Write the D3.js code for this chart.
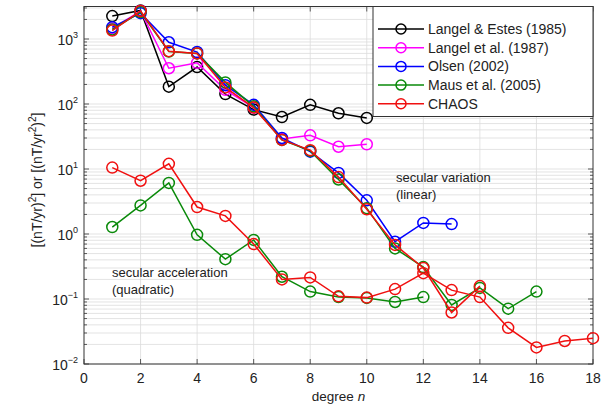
<!DOCTYPE html>
<html><head><meta charset="utf-8">
<script src="https://cdn.jsdelivr.net/npm/d3@7"></script>
<style>
html,body{margin:0;padding:0;background:#fff;}
svg{display:block;font-family:"Liberation Sans",Arial,Helvetica,sans-serif;}
</style></head>
<body><svg id="c" width="603" height="406"></svg>
<script>
// ---- data ----
const xTicks = [0,2,4,6,8,10,12,14,16,18];
const yExponents = [-2,-1,0,1,2,3];
const seriesNames = ["Langel & Estes (1985)","Langel et al. (1987)","Olsen (2002)","Maus et al. (2005)","CHAOS"];
const seriesColors = ["#000000","#ff00ff","#0000ff","#0a8a0a","#f01010"];
const langelEstesSV = [2250, 2750, 185, 370, 142, 82, 63, 97, 72, 61];
const langel87SV    = [1450, 2700, 355, 430, 165, 88, 29, 33, 22, 24];
const olsenSV       = [1520, 2500, 890, 630, 195, 97, 30, 18.5, 8.7, 3.3, 0.76, 1.48, 1.42];
const mausSV        = [1400, 2600, 640, 600, 215, 92, 28, 19, 6.9, 2.5, 0.6, 0.31, 0.081, 0.148, 0.071, 0.13];
const mausSA        = [1.28, 2.75, 6.1, 0.97, 0.41, 0.81, 0.22, 0.13, 0.107, 0.104, 0.09, 0.107];
const chaosSV       = [1350, 2700, 650, 600, 180, 88, 28, 19.5, 7.5, 2.4, 0.68, 0.3, 0.062, 0.158];
const chaosSA       = [10.5, 6.6, 12, 2.6, 1.9, 0.7, 0.2, 0.215, 0.11, 0.105, 0.142, 0.25, 0.137, 0.107, 0.036, 0.018, 0.0226, 0.025];

// ---- layout ----
const L = 84, R = 593, T = 6.5, B = 364;
const svg = d3.select("#c");
const x = d3.scaleLinear().domain([0,18]).range([L,R]);
const y = d3.scaleLog().domain([1e-2, Math.pow(10,3.5)]).range([B,T]);

// grid
const g = svg.append("g");
const minorVals = [];
for (let e=-2; e<=3; e++) for (let k=1;k<=9;k++){ const v=k*Math.pow(10,e); if (v<=Math.pow(10,3.5)) minorVals.push(v); }
g.selectAll("line.ym").data(minorVals).join("line")
  .attr("x1",L).attr("x2",R).attr("y1",d=>y(d)).attr("y2",d=>y(d))
  .attr("stroke","#dcdcdc").attr("stroke-width",0.8);
g.selectAll("line.xg").data(xTicks.slice(1,-1)).join("line")
  .attr("x1",d=>x(d)).attr("x2",d=>x(d)).attr("y1",T).attr("y2",B)
  .attr("stroke","#dcdcdc").attr("stroke-width",0.8);

// ticks (inside)
const tk = svg.append("g").attr("stroke","#333").attr("stroke-width",0.8);
minorVals.forEach(v=>{
  const len = (Math.log10(v)%1===0)?5:3;
  tk.append("line").attr("x1",L).attr("x2",L+len).attr("y1",y(v)).attr("y2",y(v));
  tk.append("line").attr("x1",R).attr("x2",R-len).attr("y1",y(v)).attr("y2",y(v));
});
xTicks.forEach(v=>{
  tk.append("line").attr("x1",x(v)).attr("x2",x(v)).attr("y1",B).attr("y2",B-5);
  tk.append("line").attr("x1",x(v)).attr("x2",x(v)).attr("y1",T).attr("y2",T+5);
});

// frame
svg.append("rect").attr("x",L).attr("y",T).attr("width",R-L).attr("height",B-T)
  .attr("fill","none").attr("stroke","#333").attr("stroke-width",1);

// tick labels
svg.append("g").selectAll("text").data(xTicks).join("text")
  .attr("x",d=>x(d)).attr("y",B+19).attr("text-anchor","middle")
  .attr("font-size",14).attr("fill","#222").text(d=>d);
const yl = svg.append("g").selectAll("text").data(yExponents).join("text")
  .attr("x",L-6).attr("y",d=>y(Math.pow(10,d))+6).attr("text-anchor","end")
  .attr("font-size",14).attr("fill","#222");
yl.append("tspan").text("10");
yl.append("tspan").attr("dy",-7).attr("font-size",9).text(d=>String(d).replace("-","\u2212"));

// axis titles
const xt = svg.append("text").attr("x",(L+R)/2).attr("y",401).attr("text-anchor","middle")
  .attr("font-size",13.5).attr("fill","#222");
xt.append("tspan").text("degree ");
xt.append("tspan").attr("font-style","italic").text("n");

const ytl = svg.append("text").attr("transform","translate(42,180) rotate(-90)")
  .attr("text-anchor","middle").attr("font-size",14).attr("fill","#222");
ytl.append("tspan").text("[(nT/yr)");
ytl.append("tspan").attr("dy",-6).attr("font-size",10).text("2");
ytl.append("tspan").attr("dy",6).text("] or [(nT/yr");
ytl.append("tspan").attr("dy",-6).attr("font-size",10).text("2");
ytl.append("tspan").attr("dy",6).text(")");
ytl.append("tspan").attr("dy",-6).attr("font-size",10).text("2");
ytl.append("tspan").attr("dy",6).text("]");

// annotations
const ann1 = svg.append("text").attr("font-size",13).attr("fill","#222");
ann1.append("tspan").attr("x",396).attr("y",182).text("secular variation");
ann1.append("tspan").attr("x",396).attr("y",199).text("(linear)");
const ann2 = svg.append("text").attr("font-size",13).attr("fill","#222");
ann2.append("tspan").attr("x",112).attr("y",277).text("secular acceleration");
ann2.append("tspan").attr("x",112).attr("y",294).text("(quadratic)");

// series
const line = d3.line().x((d,i)=>x(i+1)).y(d=>y(d));
const plots = [
  [langelEstesSV,0],[langel87SV,1],[olsenSV,2],[mausSV,3],[mausSA,3],[chaosSV,4],[chaosSA,4]
];
const sg = svg.append("g");
plots.forEach(([vals,ci])=>{
  const gg = sg.append("g");
  gg.append("path").attr("d",line(vals)).attr("fill","none")
    .attr("stroke",seriesColors[ci]).attr("stroke-width",1.5);
  gg.selectAll("circle").data(vals).join("circle")
    .attr("cx",(d,i)=>x(i+1)).attr("cy",d=>y(d)).attr("r",5.5)
    .attr("fill","none").attr("stroke",seriesColors[ci]).attr("stroke-width",1.5);
});

// legend
const lg = svg.append("g");
lg.append("rect").attr("x",373).attr("y",T).attr("width",R-373).attr("height",110)
  .attr("fill","#fff").attr("stroke","#333").attr("stroke-width",1);
seriesNames.forEach((nm,i)=>{
  const yy = 29 + i*18.7;
  lg.append("line").attr("x1",378).attr("x2",424).attr("y1",yy).attr("y2",yy)
    .attr("stroke",seriesColors[i]).attr("stroke-width",1.5);
  lg.append("circle").attr("cx",401).attr("cy",yy).attr("r",5)
    .attr("fill","none").attr("stroke",seriesColors[i]).attr("stroke-width",1.5);
  lg.append("text").attr("x",428).attr("y",yy+5).attr("font-size",14).attr("fill","#222").text(nm);
});
</script></body></html>
